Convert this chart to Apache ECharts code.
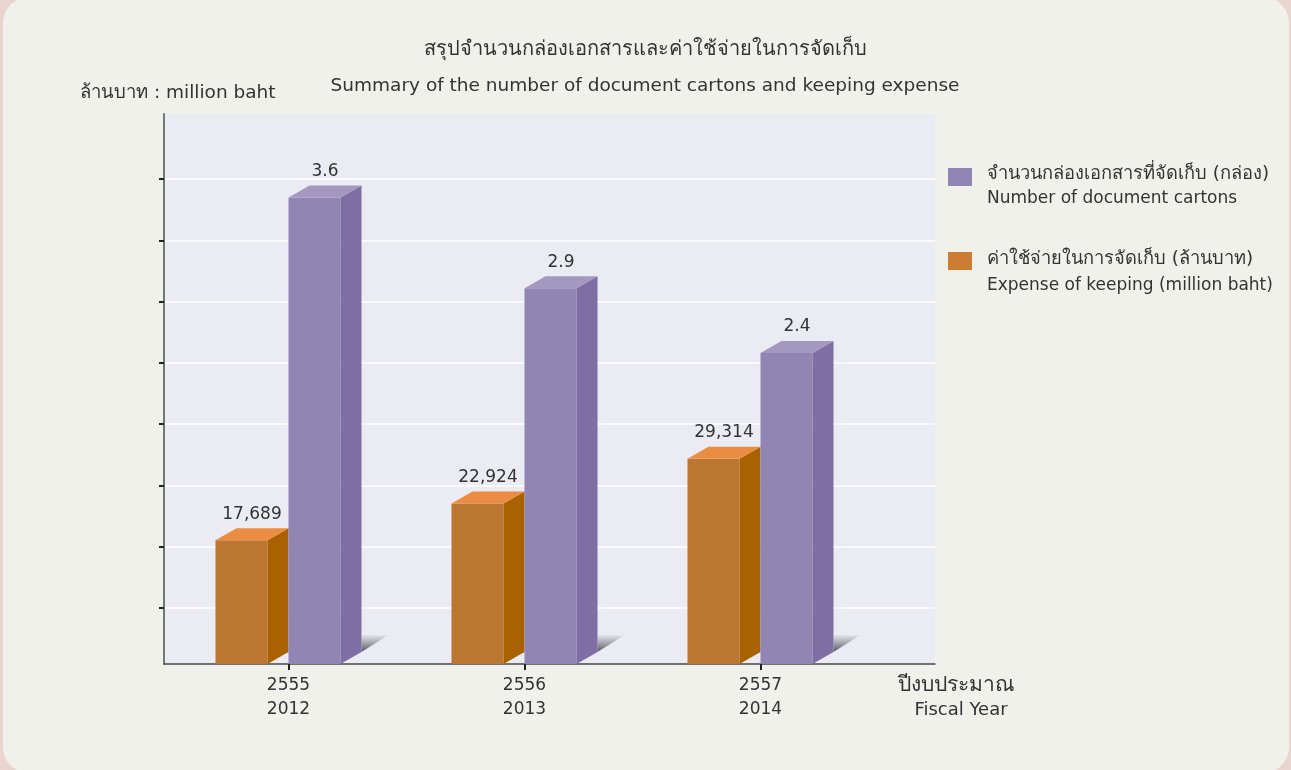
<!DOCTYPE html>
<html>
<head>
<meta charset="utf-8">
<script src="https://cdn.jsdelivr.net/npm/echarts@6/dist/echarts.min.js"></script>
<style>
    html, body { margin: 0; padding: 0; background: #EAD4CF; }
    #card { position: absolute; left: 3px; top: -3px; width: 1286px; height: 776px; border-radius: 26px; background: #F1F1EC; }
    #chartContainer { position: absolute; left: 0; top: 0; width: 1291px; height: 770px; }
</style>
</head>
<body>
<div id="card"></div>
<div id="chartContainer"></div>
<script>
// values as printed on the bars (colours follow the source picture)
const thaiYears = ['2555', '2556', '2557'];
const yearsAD = ['2012', '2013', '2014'];
const cartons = [17689, 22924, 29314];   // orange bars
const expense = [3.6, 2.9, 2.4];         // purple bars
const gridTicks = [1, 8];                // decorative tick rows on the left axis

const FONT = 'DejaVu Sans, sans-serif';

// 3d-looking box drawn from the axis scales
function boxRenderer(colors, shift, withShadow, fmt) {
    return function (params, api) {
        const base = api.coord([api.value(0), 0]);
        const top = api.coord([api.value(0), api.value(1)]);
        const w = 52, dx = 21, dy = 12;
        const x0 = base[0] + shift, x1 = x0 + w;
        const yb = base[1], yt = top[1];
        const children = [];
        if (withShadow) {
            // floor shadow behind the box
            children.push({
                type: 'polygon',
                shape: { points: [[x1 + dx, yb - dy - 17], [x1 + dx + 27, yb - dy - 17], [x1 + dx, yb - dy]] },
                style: {
                    fill: new echarts.graphic.LinearGradient(0, 0, 0, 1, [
                        { offset: 0, color: 'rgba(80,80,90,0.05)' },
                        { offset: 1, color: 'rgba(60,60,70,0.85)' }
                    ])
                }
            });
        }
        children.push({
            type: 'rect',
            shape: { x: x0, y: yt, width: w, height: yb - yt },
            style: { fill: colors[0] }
        });
        children.push({
            type: 'polygon',
            shape: { points: [[x1, yt], [x1 + dx, yt - dy], [x1 + dx, yb - dy], [x1, yb]] },
            style: { fill: colors[1] }
        });
        children.push({
            type: 'polygon',
            shape: { points: [[x0, yt], [x0 + dx, yt - dy], [x1 + dx, yt - dy], [x1, yt]] },
            style: { fill: colors[2] }
        });
        children.push({
            type: 'text',
            style: {
                text: fmt(api.value(1)),
                x: (x0 + x1 + dx) / 2, y: yt - dy - 14,
                align: 'center', verticalAlign: 'middle',
                font: '17px ' + FONT, fill: '#333'
            }
        });
        return { type: 'group', children: children };
    };
}

const myChart = echarts.init(document.getElementById('chartContainer'));

const option = {
    animation: false,
    textStyle: { fontFamily: FONT },
    grid: [
        { left: 164, top: 114, width: 771, height: 550, show: true, backgroundColor: '#EBEBF4', borderWidth: 0 },
        { left: 170.5, top: 114, width: 708, height: 550 },
        { left: 164, top: 179, width: 771, height: 429 }
    ],
    xAxis: [
        { gridIndex: 0, type: 'value', min: 0, max: 1, axisLine: { show: true, lineStyle: { color: '#4a4a4a', width: 1.5 } },
          axisTick: { show: false }, axisLabel: { show: false }, splitLine: { show: false } },
        { gridIndex: 1, type: 'category', data: thaiYears.map((t, i) => t + '\n' + yearsAD[i]),
          axisLine: { show: false },
          axisTick: { show: true, alignWithLabel: true, length: 6, lineStyle: { color: '#222', width: 2 } },
          axisLabel: { margin: 10, fontSize: 17, lineHeight: 24, color: '#333', fontFamily: FONT } },
        { gridIndex: 2, type: 'value', min: 0, max: 1, show: false }
    ],
    yAxis: [
        { gridIndex: 0, type: 'value', min: 0, max: 1, axisLine: { show: true, lineStyle: { color: '#777', width: 2 } },
          axisTick: { show: false }, axisLabel: { show: false }, splitLine: { show: false } },
        { gridIndex: 1, type: 'value', position: 'left', min: 0, max: 78571, show: false },
        { gridIndex: 1, type: 'value', position: 'right', min: 0, max: 4.244, show: false },
        { gridIndex: 2, type: 'value', min: gridTicks[0], max: gridTicks[1], interval: 1,
          axisLine: { show: false }, axisLabel: { show: false },
          axisTick: { show: true, length: 5, lineStyle: { color: '#222', width: 2 } },
          splitLine: { show: true, lineStyle: { color: '#FFFFFF', width: 1.5 } } }
    ],
    series: [
        {
            name: 'cartons', type: 'custom', xAxisIndex: 1, yAxisIndex: 1,
            encode: { x: 0, y: 1 },
            data: cartons.map((v, i) => [i, v]),
            renderItem: boxRenderer(['#BB7731', '#AA6200', '#EA8D43'], -73, false, v => v.toLocaleString('en-US'))
        },
        {
            name: 'expense', type: 'custom', xAxisIndex: 1, yAxisIndex: 2,
            encode: { x: 0, y: 1 },
            data: expense.map((v, i) => [i, v]),
            renderItem: boxRenderer(['#9185B3', '#7F6EA4', '#A498C1'], 0, true, v => v.toFixed(1))
        }
    ],
    graphic: [
        { type: 'text', x: 645, y: 50, style: { text: 'สรุปจำนวนกล่องเอกสารและค่าใช้จ่ายในการจัดเก็บ', font: '20px ' + FONT, fill: '#333', align: 'center', verticalAlign: 'middle' } },
        { type: 'text', x: 645, y: 86, style: { text: 'Summary of the number of document cartons and keeping expense', font: '18.5px ' + FONT, fill: '#333', align: 'center', verticalAlign: 'middle' } },
        { type: 'text', x: 80, y: 93, style: { text: 'ล้านบาท : million baht', font: '18.5px ' + FONT, fill: '#333', align: 'left', verticalAlign: 'middle' } },
        { type: 'rect', shape: { x: 948, y: 168, width: 24, height: 18 }, style: { fill: '#9185B3' } },
        { type: 'text', x: 987, y: 174, style: { text: 'จำนวนกล่องเอกสารที่จัดเก็บ (กล่อง)', font: '18.3px ' + FONT, fill: '#333', verticalAlign: 'middle' } },
        { type: 'text', x: 987, y: 199, style: { text: 'Number of document cartons', font: '17px ' + FONT, fill: '#333', verticalAlign: 'middle' } },
        { type: 'rect', shape: { x: 948, y: 252, width: 24, height: 18 }, style: { fill: '#CD7D33' } },
        { type: 'text', x: 987, y: 259, style: { text: 'ค่าใช้จ่ายในการจัดเก็บ (ล้านบาท)', font: '18.3px ' + FONT, fill: '#333', verticalAlign: 'middle' } },
        { type: 'text', x: 987, y: 286, style: { text: 'Expense of keeping (million baht)', font: '17px ' + FONT, fill: '#333', verticalAlign: 'middle' } },
        { type: 'text', x: 956, y: 686, style: { text: 'ปีงบประมาณ', font: '21px ' + FONT, fill: '#333', align: 'center', verticalAlign: 'middle' } },
        { type: 'text', x: 961, y: 710, style: { text: 'Fiscal Year', font: '18px ' + FONT, fill: '#333', align: 'center', verticalAlign: 'middle' } }
    ]
};

myChart.setOption(option);
</script>
</body>
</html>
